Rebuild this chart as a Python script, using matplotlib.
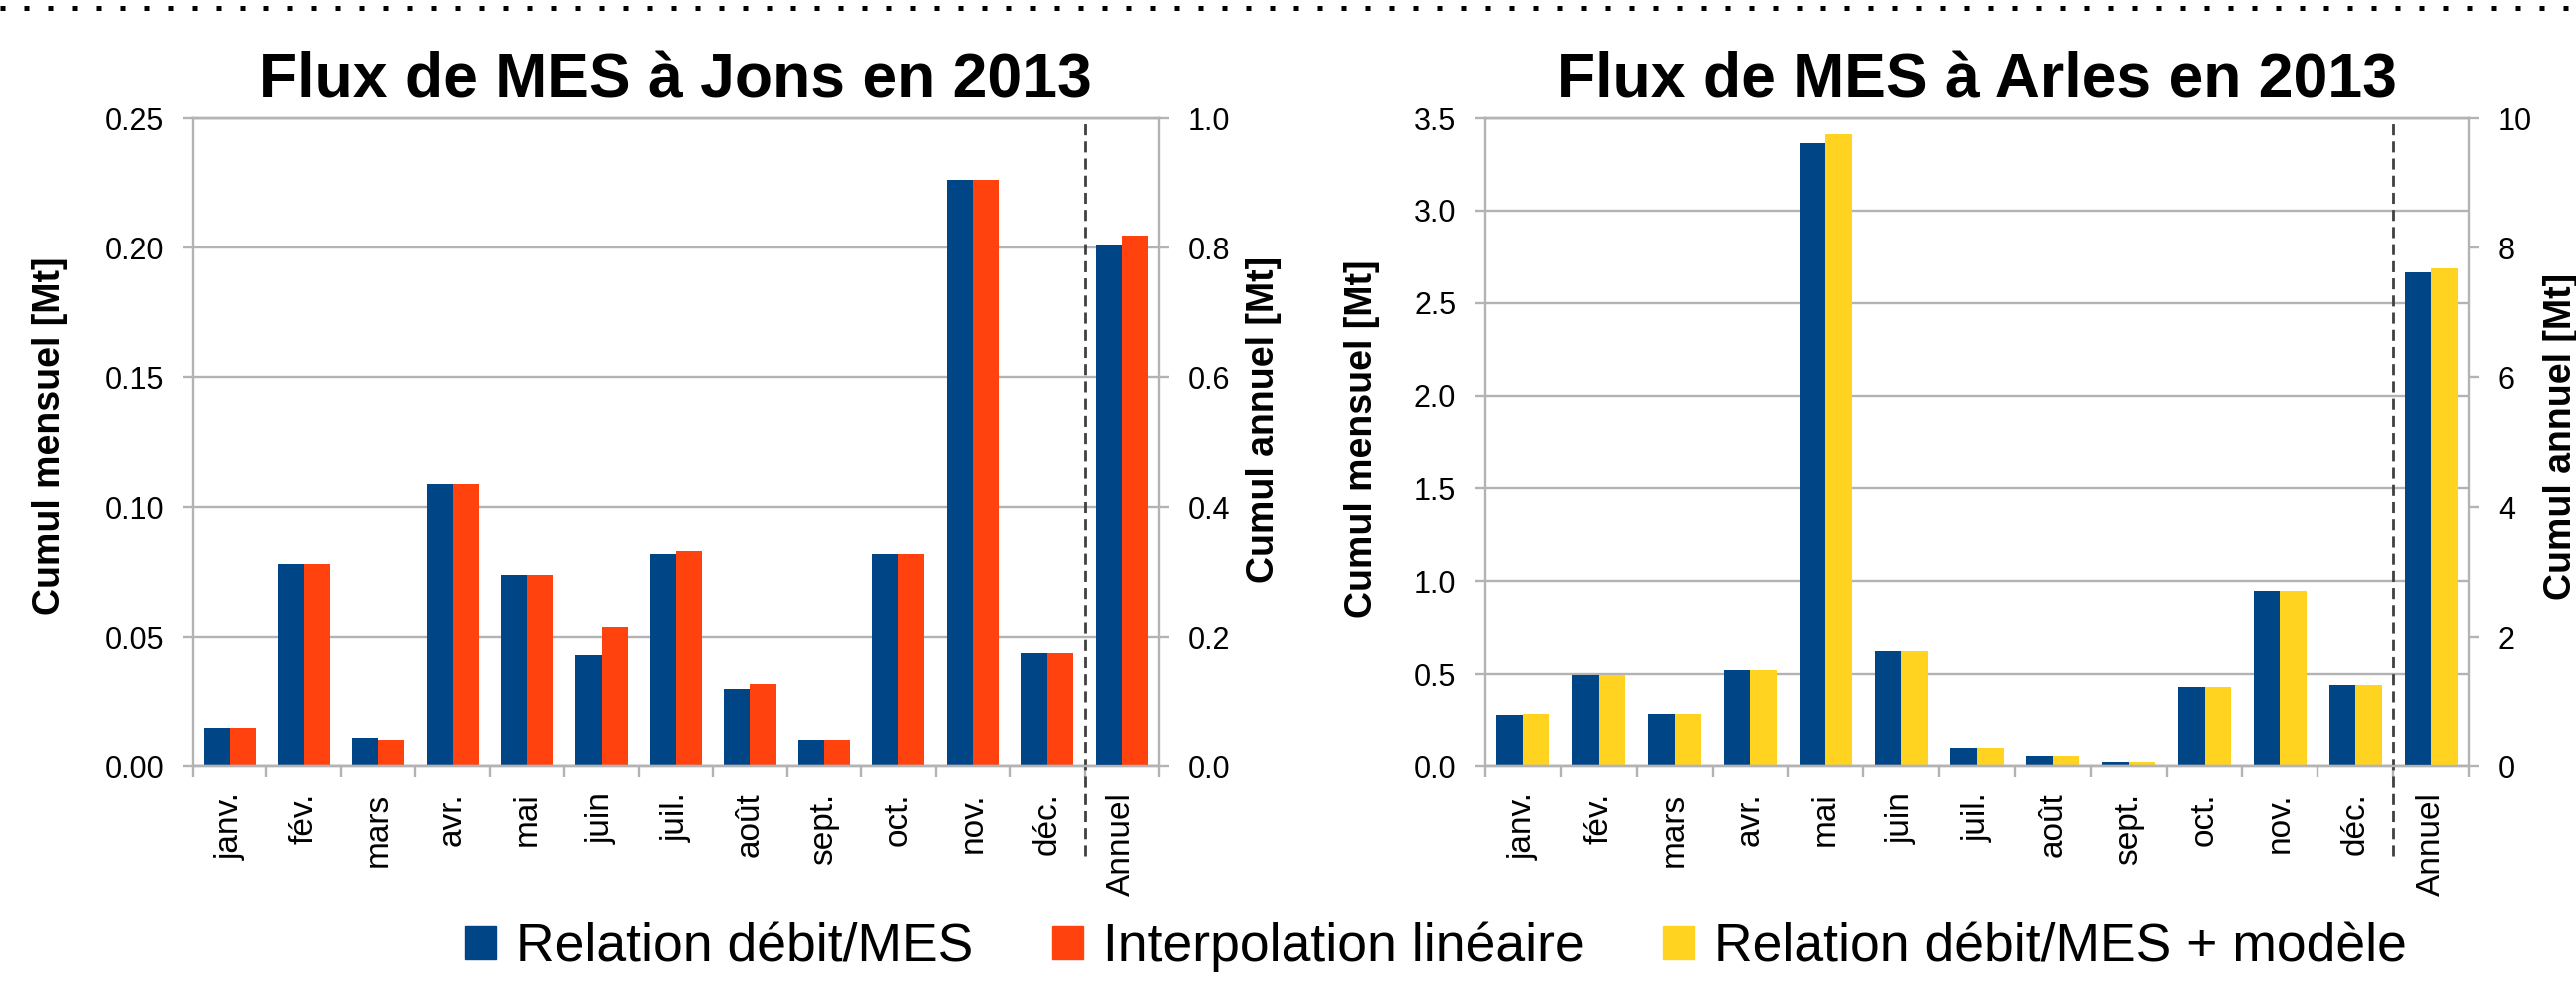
import numpy as np
import matplotlib
matplotlib.use('Agg')
import matplotlib.pyplot as plt
from matplotlib.patches import Patch
from matplotlib.lines import Line2D

plt.rcParams['font.family'] = ['Liberation Sans', 'DejaVu Sans']

months = ['janv.', 'fév.', 'mars', 'avr.', 'mai', 'juin', 'juil.', 'août', 'sept.', 'oct.', 'nov.', 'déc.']
annual_label = 'Annuel'

# Jons (monthly cumul in Mt, left axis; annual on right axis)
jons_relation = [0.015, 0.078, 0.011, 0.109, 0.074, 0.043, 0.082, 0.030, 0.010, 0.082, 0.226, 0.044]
jons_interp = [0.015, 0.078, 0.010, 0.109, 0.074, 0.054, 0.083, 0.032, 0.010, 0.082, 0.226, 0.044]
jons_annual = [0.804, 0.819]

# Arles
arles_relation = [0.281, 0.497, 0.286, 0.524, 3.363, 0.622, 0.096, 0.055, 0.022, 0.430, 0.946, 0.442]
arles_modele = [0.286, 0.497, 0.286, 0.524, 3.413, 0.627, 0.096, 0.055, 0.019, 0.430, 0.946, 0.442]
arles_annual = [7.61, 7.68]

blue = '#004586'
orange = '#ff420e'
yellow = '#ffd320'
grey = '#b3b3b3'

W, H = 2581, 988
fig = plt.figure(figsize=(W / 100, H / 100), dpi=100)


def px(x, y):
    return x / W, 1 - y / H


def draw_chart(rect, title, s1, s2, annual, c2, ymax, ystep, ymax2, ystep2, fmt, fmt2):
    ax = fig.add_axes(rect)
    n = len(months)
    x = np.arange(n)
    w = 0.35
    ax.bar(x - w / 2, s1, w, color=blue, zorder=2)
    ax.bar(x + w / 2, s2, w, color=c2, zorder=2)
    ax.set_xlim(-0.5, n + 0.5)
    ax.set_ylim(0, ymax)
    ax.set_yticks(np.arange(0, ymax + ystep / 2, ystep))
    ax.yaxis.set_major_formatter(plt.FormatStrFormatter(fmt))
    ax.yaxis.grid(True, color=grey, lw=1.7, zorder=0)
    ax.set_axisbelow(True)

    ax.set_xticks(np.arange(n + 1))
    ax.set_xticklabels(months + [annual_label], rotation=90, fontsize=24)
    ax.set_xticks(np.arange(n + 2) - 0.5, minor=True)
    ax.tick_params(axis='x', which='major', length=0, pad=19)
    ax.tick_params(axis='x', which='minor', length=8, width=1.7, color=grey)
    ax.tick_params(axis='y', length=7.2, width=1.7, color=grey, labelsize=22, pad=13.5)

    ax2 = ax.twinx()
    ax2.bar([n - w / 2], [annual[0]], w, color=blue)
    ax2.bar([n + w / 2], [annual[1]], w, color=c2)
    ax2.set_ylim(0, ymax2)
    ax2.set_yticks(np.arange(0, ymax2 + ystep2 / 2, ystep2))
    ax2.yaxis.set_major_formatter(plt.FormatStrFormatter(fmt2))
    ax2.tick_params(axis='y', length=7.2, width=1.7, color=grey, labelsize=22, pad=13.5)

    for a in (ax, ax2):
        for s in a.spines.values():
            s.set_color(grey)
            s.set_linewidth(1.7)
    ax.spines['right'].set_visible(False)
    ax2.spines['left'].set_visible(False)

    # separator between months and annual value
    ax.plot([n - 0.5, n - 0.5], [-0.138, 1], transform=ax.get_xaxis_transform(),
            color='#404040', lw=2, ls=(0, (4, 2.2)), clip_on=False, zorder=5)

    ax.set_title(title, fontsize=45, fontweight='bold', pad=15)
    return ax


draw_chart([193 / W, 1 - 768 / H, 968 / W, 650 / H], 'Flux de MES à Jons en 2013',
           jons_relation, jons_interp, jons_annual, orange, 0.25, 0.05, 1.0, 0.2, '%.2f', '%.1f')
draw_chart([1488 / W, 1 - 768 / H, 986 / W, 650 / H], 'Flux de MES à Arles en 2013',
           arles_relation, arles_modele, arles_annual, yellow, 3.5, 0.5, 10, 2, '%.1f', '%d')

lab = dict(rotation=90, ha='center', va='center', fontsize=27, fontweight='bold')
fig.text(*px(50, 437), 'Cumul mensuel [Mt]', **lab)
fig.text(*px(1266, 420), 'Cumul annuel [Mt]', **lab)
fig.text(*px(1365, 440), 'Cumul mensuel [Mt]', **lab)
fig.text(*px(2566, 437), 'Cumul annuel [Mt]', **lab)

# dotted frame line along the top
fig.add_artist(Line2D([0, 1], [1 - 8.5 / H, 1 - 8.5 / H], transform=fig.transFigure,
                      color='black', lw=3.6, ls=(0, (1, 3.8)), solid_capstyle='butt',
                      dash_capstyle='butt'))

handles = [Patch(color=blue, label='Relation débit/MES'),
           Patch(color=orange, label='Interpolation linéaire'),
           Patch(color=yellow, label='Relation débit/MES + modèle')]
fig.legend(handles=handles, loc='center', bbox_to_anchor=(1439 / W, 1 - 949 / H), ncol=3,
           frameon=False, fontsize=38.5, handlelength=0.58, handleheight=0.58,
           handletextpad=0.38, columnspacing=1.46)

fig.savefig('out.png', dpi=100)
